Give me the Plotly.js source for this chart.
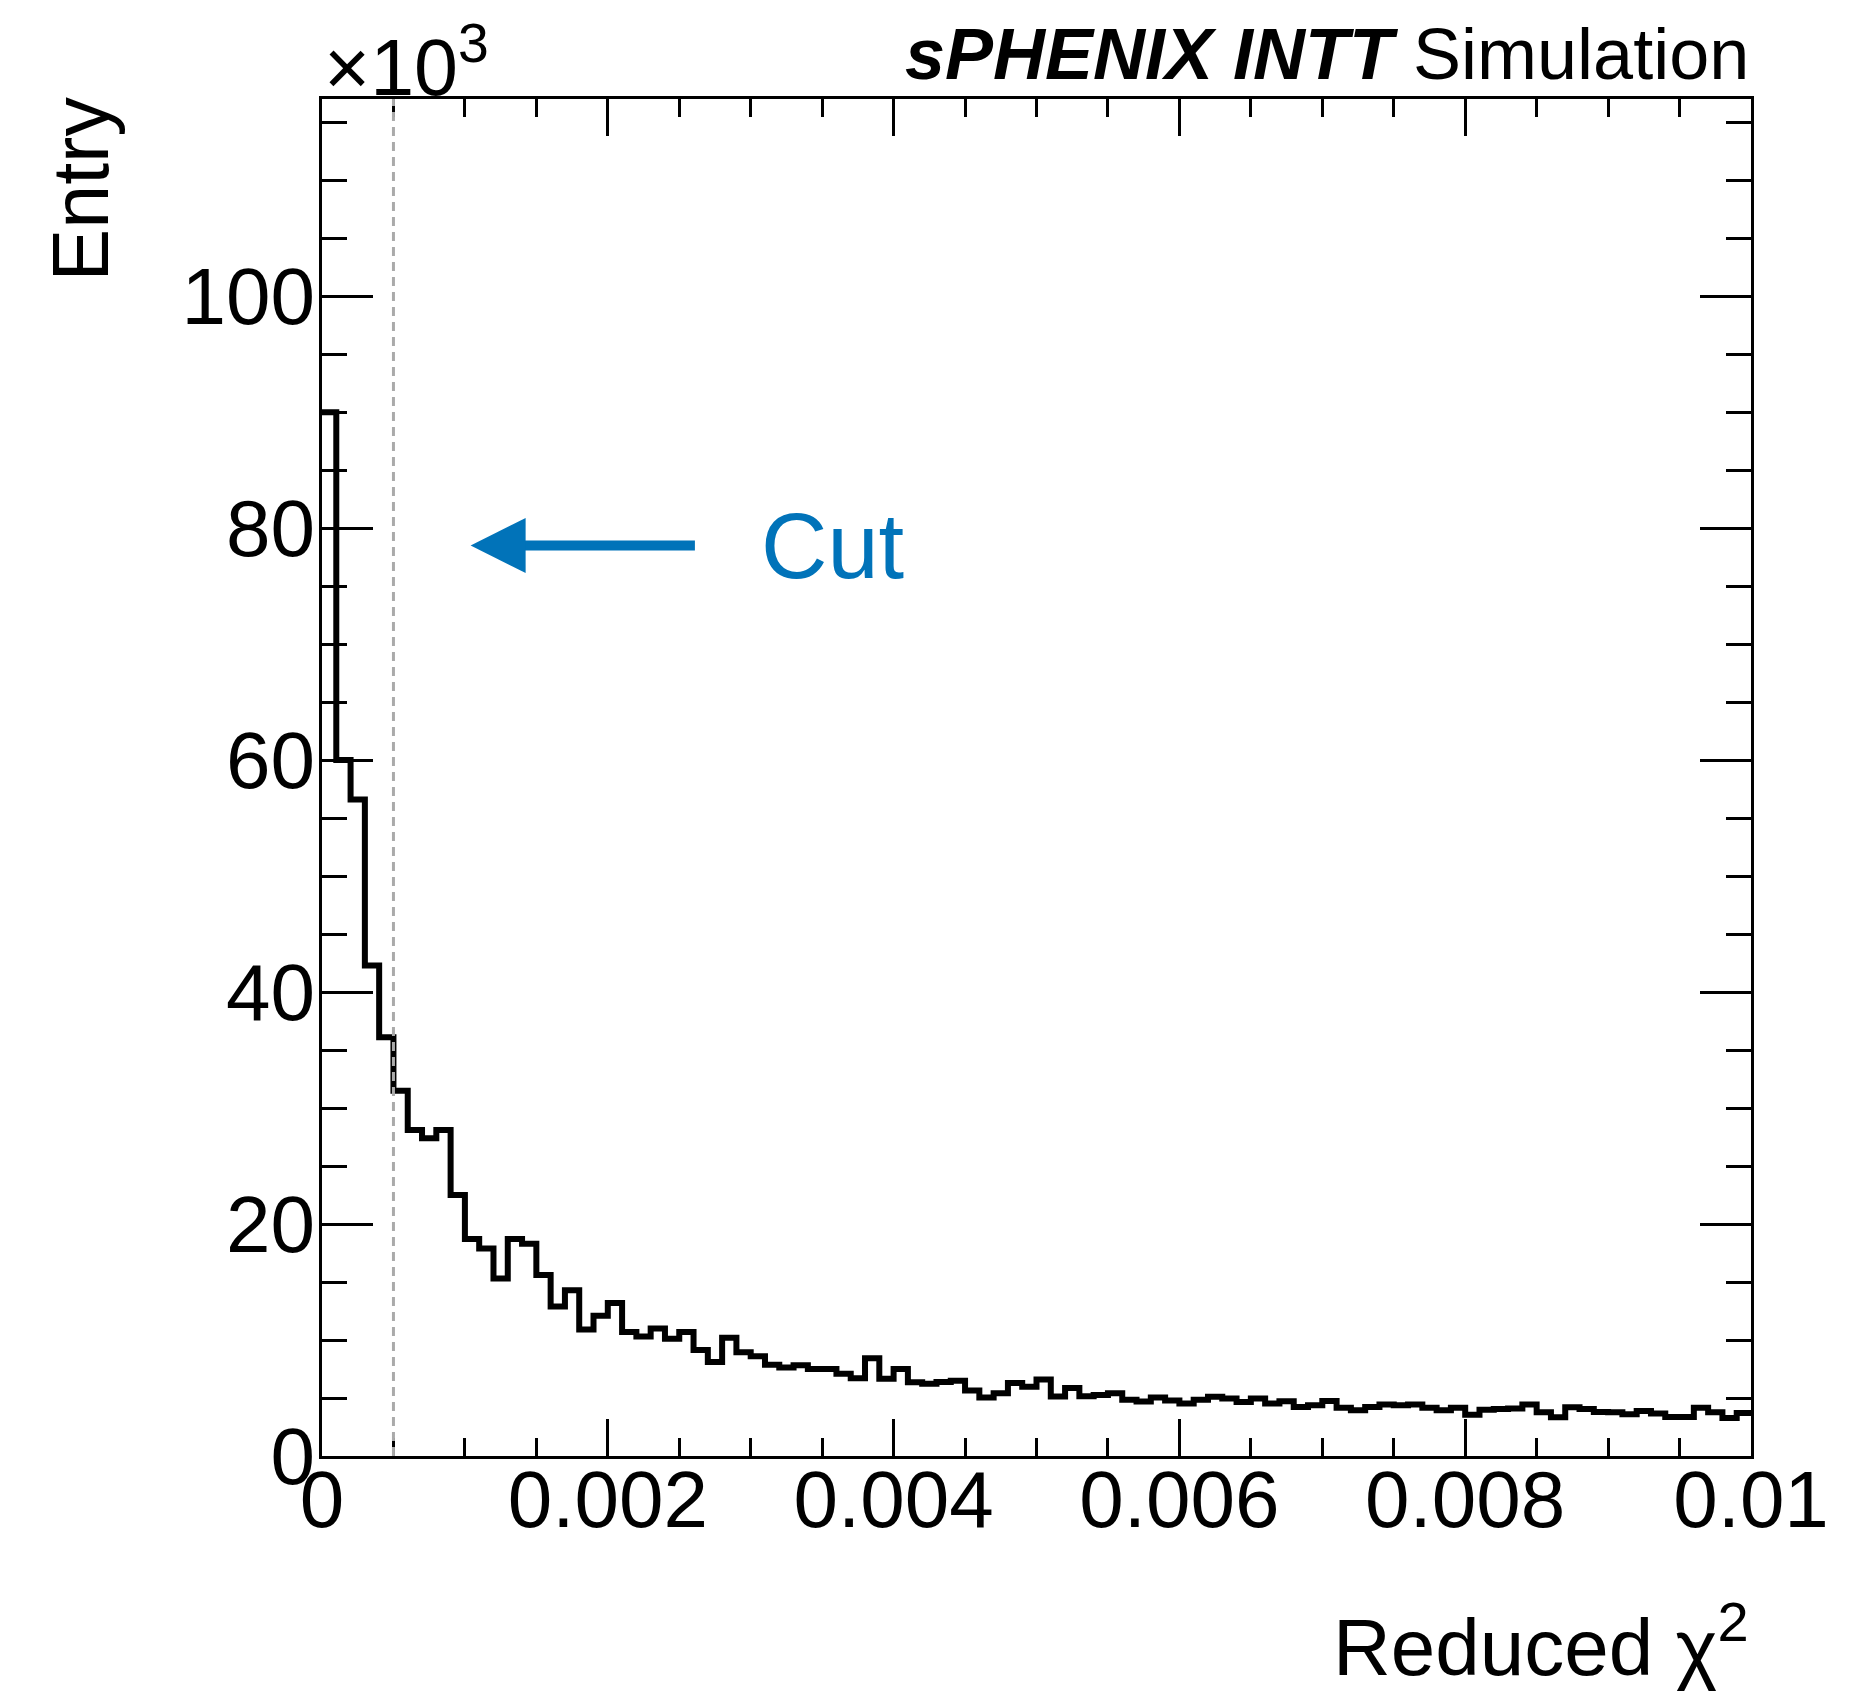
<!DOCTYPE html>
<html>
<head>
<meta charset="utf-8">
<script src="https://cdn.plot.ly/plotly-3.0.1.min.js"></script>
<style>
  html, body { margin: 0; padding: 0; background: #ffffff; }
  #chart { width: 1855px; height: 1691px; }
</style>
</head>
<body>
<div id="chart"></div>
<script>
// Histogram definition: 100 bins from 0 to 0.01
const binLow = 0.0;
const binHigh = 0.01;
const nBins = 100;

// Entries per bin, in units of 10^3
const entriesK = [
  90.0, 60.0, 56.6, 42.3, 36.1, 31.5, 28.1, 27.4, 28.1, 22.5,
  18.7, 17.9, 15.3, 18.7, 18.3, 15.6, 12.9, 14.3, 10.9, 12.1,
  13.2, 10.7, 10.3, 11.0, 10.1, 10.7, 9.15, 8.1, 10.2, 8.95,
  8.6, 7.86, 7.63, 7.83, 7.51, 7.5, 7.1, 6.7, 8.43, 6.65,
  7.5, 6.36, 6.24, 6.39, 6.48, 5.64, 5.04, 5.41, 6.3, 5.96,
  6.59, 5.12, 5.87, 5.15, 5.27, 5.41, 4.84, 4.69, 5.04, 4.78,
  4.52, 4.86, 5.1, 4.95, 4.66, 4.95, 4.52, 4.72, 4.23, 4.38,
  4.75, 4.15, 3.95, 4.23, 4.43, 4.38, 4.43, 4.15, 3.95, 4.15,
  3.55, 3.98, 4.06, 4.1, 4.43, 3.77, 3.34, 4.2, 4.06, 3.8,
  3.77, 3.59, 3.88, 3.66, 3.37, 3.37, 4.15, 3.77, 3.28, 3.71
];

// Cut value and annotation anchor points (data coordinates)
const cutValue = 0.0005;
const arrowTip = [0.00104, 78.5];
const arrowTail = [0.00262, 78.5];
const cutLabelPos = [0.00306, 78.5];

// Axis ticks
const xTickStep = 0.002;
const xMinorStep = 0.0005;
const yTickStep = 20;
const yMinorStep = 5;
const yMax = 117;

const binWidth = (binHigh - binLow) / nBins;
const edges = [];
for (let i = 0; i <= nBins; i++) edges.push(binLow + i * binWidth);
const stepY = entriesK.concat([entriesK[entriesK.length - 1]]);

const FONT = '"Liberation Sans", Arial, Helvetica, sans-serif';
const BLUE = '#0173b9';

const trace = {
  type: 'scatter',
  mode: 'lines',
  x: edges,
  y: stepY,
  line: { shape: 'hv', color: '#000000', width: 6 },
  hoverinfo: 'x+y',
  showlegend: false
};

const layout = {
  width: 1855,
  height: 1691,
  paper_bgcolor: '#ffffff',
  plot_bgcolor: '#ffffff',
  margin: { l: 322, r: 104, t: 99, b: 235, pad: 0 },
  font: { family: FONT, color: '#000000', size: 80 },
  showlegend: false,
  xaxis: {
    range: [binLow, binHigh],
    dtick: xTickStep,
    tick0: 0,
    ticks: 'inside',
    ticklen: 37,
    tickwidth: 3,
    tickcolor: '#000000',
    minor: { dtick: xMinorStep, ticks: 'inside', ticklen: 18, tickwidth: 3, tickcolor: '#000000', showgrid: false },
    showline: true,
    linewidth: 3,
    linecolor: '#000000',
    mirror: 'ticks',
    showgrid: false,
    zeroline: false,
    tickfont: { family: FONT, size: 80, color: '#000000' },
    ticklabelstandoff: -28
  },
  yaxis: {
    range: [0, yMax],
    dtick: yTickStep,
    tick0: 0,
    ticks: 'inside',
    ticklen: 51,
    tickwidth: 3,
    tickcolor: '#000000',
    minor: { dtick: yMinorStep, ticks: 'inside', ticklen: 25, tickwidth: 3, tickcolor: '#000000', showgrid: false },
    showline: true,
    linewidth: 3,
    linecolor: '#000000',
    mirror: 'ticks',
    showgrid: false,
    zeroline: false,
    tickfont: { family: FONT, size: 80, color: '#000000' },
    ticklabelstandoff: -12
  },
  shapes: [
    {
      type: 'line', xref: 'x', yref: 'paper',
      x0: cutValue, x1: cutValue, y0: 0, y1: 1,
      line: { color: '#aaaaaa', width: 3, dash: '9px,6px' }
    }
  ],
  annotations: [
    {
      // arrow
      xref: 'x', yref: 'y', axref: 'x', ayref: 'y',
      x: arrowTip[0], y: arrowTip[1], ax: arrowTail[0], ay: arrowTail[1],
      text: '', showarrow: true, arrowhead: 2, arrowsize: 1.1, arrowwidth: 10,
      arrowcolor: BLUE, standoff: 0, startstandoff: 0
    },
    {
      xref: 'x', yref: 'y', x: cutLabelPos[0], y: cutLabelPos[1],
      xanchor: 'left', yanchor: 'middle', showarrow: false,
      text: 'Cut', font: { family: FONT, size: 92, color: BLUE }
    },
    {
      xref: 'paper', yref: 'paper', x: 1, y: 1.0335,
      xanchor: 'right', yanchor: 'middle', showarrow: false,
      text: '<b><i>sPHENIX INTT</i></b> Simulation',
      font: { family: FONT, size: 72, color: '#000000' }
    },
    {
      xref: 'paper', yref: 'paper', x: 0, y: 1.0273,
      xanchor: 'left', yanchor: 'middle', showarrow: false,
      text: '×10<sup>3</sup>',
      font: { family: FONT, size: 79, color: '#000000' }
    },
    {
      xref: 'paper', yref: 'paper', x: -0.1693, y: 1.003,
      xanchor: 'center', yanchor: 'top', showarrow: false, textangle: -90,
      text: 'Entry',
      font: { family: FONT, size: 79, color: '#000000' }
    },
    {
      xref: 'paper', yref: 'paper', x: 1, y: -0.136,
      xanchor: 'right', yanchor: 'middle', showarrow: false,
      text: 'Reduced χ<sup>2</sup>',
      font: { family: FONT, size: 80, color: '#000000' }
    }
  ]
};

Plotly.newPlot('chart', [trace], layout, { staticPlot: true, displayModeBar: false });
</script>
</body>
</html>
